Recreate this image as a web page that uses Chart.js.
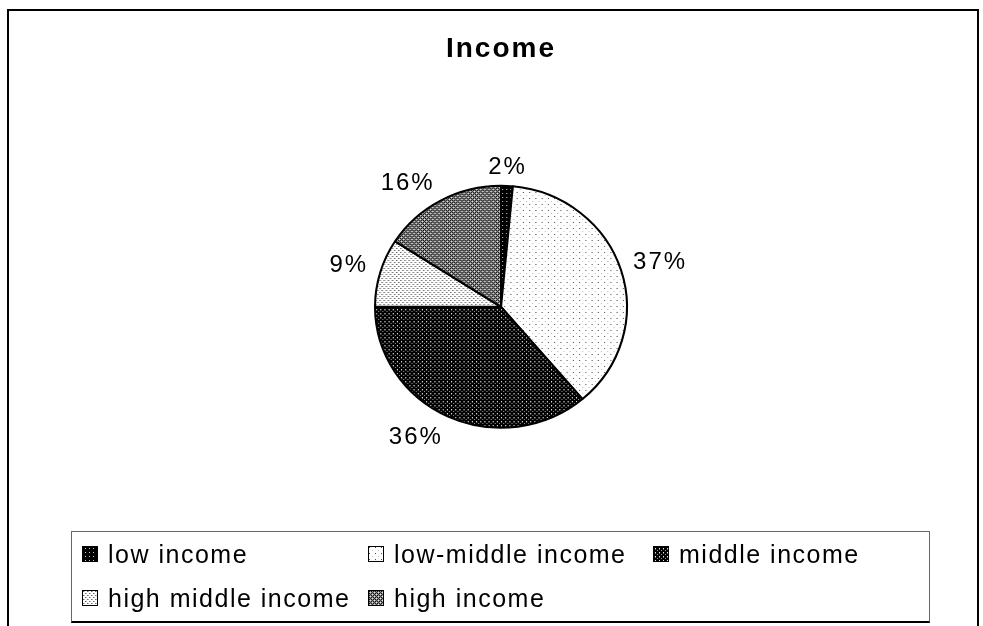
<!DOCTYPE html>
<html>
<head>
<meta charset="utf-8">
<title>Income</title>
<script src="https://cdn.jsdelivr.net/npm/chart.js@4.4.1/dist/chart.umd.min.js"></script>
<style>
  html, body { margin: 0; padding: 0; background: #fff; overflow: hidden; }
  #page { position: relative; width: 983px; height: 626px; overflow: hidden;
          font-family: "Liberation Sans", Arial, sans-serif; }
  #frame { position: absolute; left: 7px; top: 9px; width: 968px; height: 700px;
           border: 2px solid #000; }
  #pie { position: absolute; left: 0; top: 0; }
  #legend { position: absolute; left: 71px; top: 531px; width: 847px; height: 89px;
            padding: 0 0 0 10px; border: 1px solid #666; border-bottom: 2px solid #000;
            display: grid; grid-template-columns: 286px 285px auto; grid-auto-rows: 44px; }
  .item { display: flex; align-items: center; font-size: 25px; letter-spacing: 1.5px;
          color: #000; white-space: nowrap; }
  .item canvas { border: 1px solid #000; margin-right: 10px; }
</style>
</head>
<body>
<div id="page">
  <div id="frame"></div>
  <canvas id="pie" width="983" height="626"></canvas>
  <div id="legend"></div>
</div>
<script>
const chartTitle   = 'Income';
const incomeGroups = ['low income', 'low-middle income', 'middle income', 'high middle income', 'high income'];
const incomeShares = [1.5, 37.3, 36.2, 9.1, 15.9];

// grey-level tiles for the black & white fill patterns
const tiles = [
  [[0, 0, 0, 0], [0, 0, 200, 0], [0, 0, 0, 0], [0, 0, 0, 0]],
  [[80, 255, 255, 255, 255, 255], [255, 255, 255, 255, 255, 255], [255, 255, 255, 255, 255, 255],
   [255, 255, 255, 190, 255, 255], [255, 255, 255, 255, 255, 255], [255, 255, 255, 255, 255, 255]],
  [[0, 0, 0, 0], [0, 230, 0, 0], [0, 100, 0, 0], [0, 0, 0, 150]],
  [[110, 180, 255, 255], [255, 255, 255, 255], [255, 255, 110, 180], [255, 255, 255, 255]],
  [[20, 140, 20, 140], [140, 230, 140, 60], [20, 140, 20, 140], [140, 60, 140, 230]]
];

const stretchX = 1.041;   // the original pie is slightly wider than tall

function makePattern(ctx, rows) {
  const tile = document.createElement('canvas');
  tile.width = rows[0].length;
  tile.height = rows.length;
  const tctx = tile.getContext('2d');
  rows.forEach((row, y) => row.forEach((g, x) => {
    tctx.fillStyle = `rgb(${g},${g},${g})`;
    tctx.fillRect(x, y, 1, 1);
  }));
  return ctx.createPattern(tile, 'repeat');
}

const canvas = document.getElementById('pie');
const fills  = tiles.map(t => makePattern(canvas.getContext('2d'), t));

const spacedTitle = {
  id: 'spacedTitle',
  beforeDraw(chart) { chart.ctx.letterSpacing = '2px'; },
  beforeDatasetsDraw(chart) { chart.ctx.letterSpacing = '0px'; }
};

const stretchPie = {
  id: 'stretchPie',
  beforeDatasetsDraw(chart) {
    const { x, y } = chart.getDatasetMeta(0).data[0];
    const ctx = chart.ctx;
    ctx.save();
    ctx.translate(x, y);
    ctx.scale(stretchX, 1);
    ctx.translate(-x, -y);
  },
  afterDatasetsDraw(chart) { chart.ctx.restore(); }
};

const clamp01 = v => Math.max(0, Math.min(1, v));

const pieLabels = {
  id: 'pieLabels',
  afterDatasetsDraw(chart) {
    const ctx   = chart.ctx;
    const meta  = chart.getDatasetMeta(0);
    const total = incomeShares.reduce((a, b) => a + b, 0);
    ctx.save();
    ctx.font = '24px "Liberation Sans", Arial, sans-serif';
    ctx.letterSpacing = '2px';
    ctx.fillStyle = '#000';
    ctx.textAlign = 'center';
    ctx.textBaseline = 'alphabetic';
    meta.data.forEach((arc, i) => {
      const { x, y, startAngle, endAngle, outerRadius } =
        arc.getProps(['x', 'y', 'startAngle', 'endAngle', 'outerRadius'], true);
      const mid  = (startAngle + endAngle) / 2;
      const text = Math.round(incomeShares[i] * 100 / total) + '%';
      const w    = ctx.measureText(text).width;
      const h    = 17;
      const dx = Math.cos(mid), dy = Math.sin(mid);
      const r  = outerRadius + 12;
      const fx = Math.sign(dx) * clamp01((Math.abs(dx) - 0.1) / 0.25);
      const fy = Math.sign(dy) * clamp01((Math.abs(dy) - 0.1) / 0.25);
      const cx = x + dx * r * stretchX + fx * w / 2;
      const cy = y + dy * r + fy * h / 2;
      ctx.fillText(text, cx, cy + h / 2);
    });
    ctx.restore();
  }
};

new Chart(canvas, {
  type: 'pie',
  data: {
    labels: incomeGroups,
    datasets: [{
      data: incomeShares,
      backgroundColor: fills,
      borderColor: '#000',
      borderWidth: 2,
      radius: 121
    }]
  },
  options: {
    responsive: false,
    animation: false,
    layout: { padding: { left: 19, right: 0, top: 0, bottom: 78 } },
    plugins: {
      legend: { display: false },
      tooltip: { enabled: false },
      title: {
        display: true,
        text: chartTitle,
        color: '#000',
        font: { family: '"Liberation Sans", Arial, sans-serif', size: 28, weight: 'bold' },
        padding: { top: 32, bottom: 0 }
      }
    }
  },
  plugins: [spacedTitle, stretchPie, pieLabels]
});

// legend built from the same categories and fills
const legendBox = document.getElementById('legend');
incomeGroups.forEach((name, i) => {
  const item = document.createElement('div');
  item.className = 'item';
  const sw = document.createElement('canvas');
  sw.width = 14;
  sw.height = 14;
  const sctx = sw.getContext('2d');
  sctx.fillStyle = makePattern(sctx, tiles[i]);
  sctx.fillRect(0, 0, 14, 14);
  item.appendChild(sw);
  item.appendChild(document.createTextNode(name));
  legendBox.appendChild(item);
});
</script>
</body>
</html>
